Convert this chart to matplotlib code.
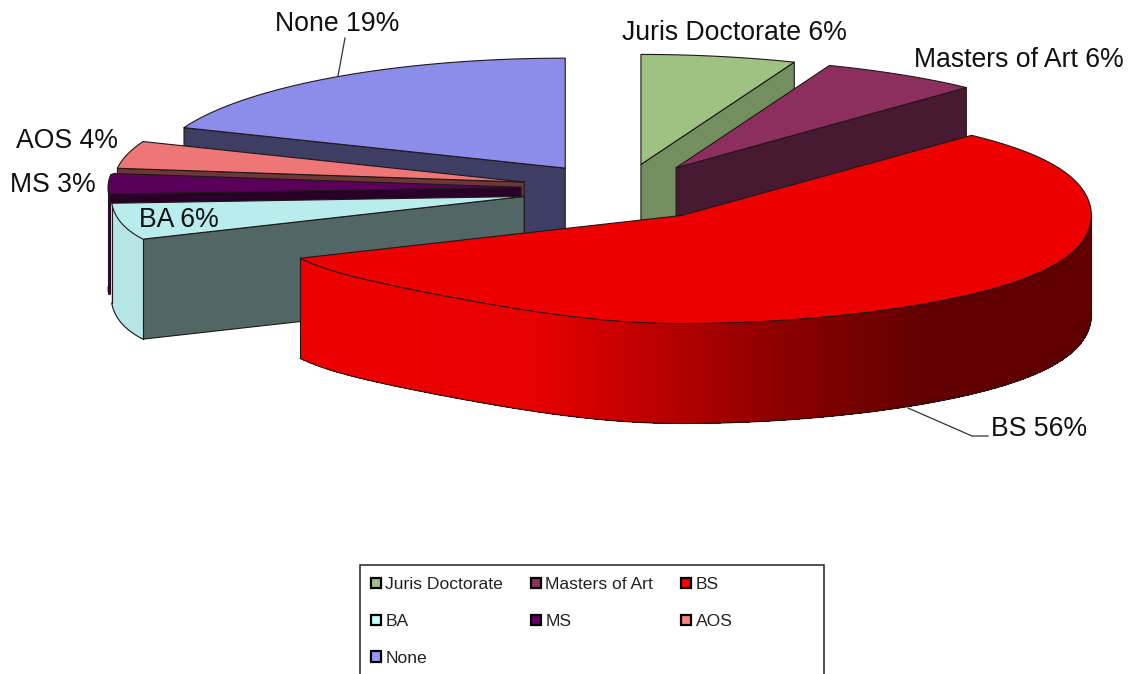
import numpy as np
import matplotlib
matplotlib.use("Agg")
import matplotlib.pyplot as plt
from matplotlib.patches import Polygon, Patch, Rectangle
from matplotlib.colors import LinearSegmentedColormap

plt.rcParams['font.family'] = ['Liberation Sans', 'DejaVu Sans']

categories = ["Juris Doctorate", "Masters of Art", "BS", "BA", "MS", "AOS", "None"]
values = [6, 6, 56, 6, 3, 4, 19]
top_colors = ["#9EC282", "#8C2F5F", "#EE0000", "#B9ECEC", "#5A005A", "#EE7676", "#8C8CEB"]
side_colors = ["#738E5F", "#481A32", "#EE0000", "#526666", "#280028", "#6E3737", "#3E3E64"]
rim_colors = ["#738E5F", "#481A32", "#EE0000", "#B4E6E6", "#280028", "#6E3737", "#3E3E64"]
legend_colors = ["#9EC282", "#8C2F5F", "#FF0000", "#C4FFFF", "#660066", "#FF8080", "#9999FF"]
label_text = ["Juris Doctorate 6%", "Masters of Art 6%", "BS 56%", "BA 6%", "MS 3%", "AOS 4%", "None 19%"]
label_xy = [(734, 33), (1019, 60), (1039, 429), (179, 220), (53, 185), (67, 141), (337, 24)]

W, H = 1133, 674
CX, CY = 622, 188          # pie centre before the slices are pulled apart
EX, EY_UP, EY_DOWN = 101, 24, 34
RX, RY_BACK, RY_FRONT, DEPTH = 410, 110, 108, 100

fig = plt.figure(figsize=(W / 100, H / 100), dpi=100)
ax = fig.add_axes([0, 0, 1, 1])
ax.set_xlim(0, W)
ax.set_ylim(H, 0)
ax.axis("off")

fractions = np.array(values) / np.sum(values)
edges = np.concatenate([[0], np.cumsum(fractions) * 360])
red_shade = LinearSegmentedColormap.from_list(
    "red_shade", [(0, "#EE0000"), (0.3, "#E80000"), (0.62, "#8A0000"), (0.8, "#600000"), (1, "#600000")])
EDGE = dict(edgecolor="#201818", linewidth=0.8, joinstyle="round")


def apex_of(mid):
    s, c = np.sin(np.radians(mid)), np.cos(np.radians(mid))
    return CX + EX * s, CY - (EY_UP if c > 0 else EY_DOWN) * c


def rim(ax0, ay0, angles):
    # slight perspective: the ellipse is not quite regular in the reference's projection
    angles = np.asarray(angles, dtype=float)
    t = np.radians(angles)
    warp = np.sin(2 * t) ** 2
    rx = RX + np.where(angles <= 270, 14 * warp, 0) + np.where((angles > 180) & (angles < 277), 3, 0)
    ry = np.where(np.cos(t) > 0, RY_BACK, RY_FRONT - np.where(angles > 180, 13 * warp, 0))
    return np.column_stack([ax0 + rx * np.sin(t), ay0 - ry * np.cos(t)])


slices = []
for i in range(len(values)):
    a, b = edges[i], edges[i + 1]
    slices.append((apex_of((a + b) / 2), a, b, i))
slices.sort(key=lambda item: item[0][1])

for rank, ((ax0, ay0), a, b, i) in enumerate(slices):
    z = 2 + 3 * rank
    # straight cut faces that turn to the viewer
    for ang, show in ((a, 180 < a < 360), (b, 0 < b < 180)):
        if show:
            p = rim(ax0, ay0, [ang])[0]
            ax.add_patch(Polygon([(ax0, ay0), p, p + (0, DEPTH), (ax0, ay0 + DEPTH)],
                                 facecolor=side_colors[i], zorder=z, **EDGE))
    # outer wall on the near half
    lo, hi = max(a, 90), min(b, 270)
    if hi > lo:
        angs = np.linspace(lo, hi, max(int(hi - lo) + 2, 2))
        pts = rim(ax0, ay0, angs)
        for k in range(len(pts) - 1):
            if categories[i] == "BS":
                col = red_shade(float(np.clip((pts[k, 0] - 300) / 790, 0, 1)))
            else:
                col = rim_colors[i]
            quad = [pts[k], pts[k + 1], pts[k + 1] + (0, DEPTH), pts[k] + (0, DEPTH)]
            ax.add_patch(Polygon(quad, facecolor=col, edgecolor="none", linewidth=0,
                                 antialiased=False, zorder=z + 0.1))
        low = pts + (0, DEPTH)
        ax.plot(low[:, 0], low[:, 1], color="#201818", lw=0.8, zorder=z + 0.2)
        ax.plot([pts[-1, 0]] * 2, [pts[-1, 1], low[-1, 1]], color="#201818", lw=0.8, zorder=z + 0.2)
        ax.plot([pts[0, 0]] * 2, [pts[0, 1], low[0, 1]], color="#201818", lw=0.8, zorder=z + 0.2)
    # top face
    arc = rim(ax0, ay0, np.linspace(a, b, max(int(b - a) * 2, 8)))
    ax.add_patch(Polygon(np.vstack([[(ax0, ay0)], arc]), facecolor=top_colors[i], zorder=z + 1, **EDGE))

# leader lines
ax.plot([345, 338], [38, 76], color="#333333", lw=0.9, zorder=40)
ax.plot([908, 972, 988], [408, 436, 436], color="#333333", lw=0.9, zorder=40)

for txt, (x, y) in zip(label_text, label_xy):
    ax.text(x, y, txt, ha="center", va="center", fontsize=19.2, color="#111111", zorder=50)

# legend frame runs off the bottom of the picture, as in the reference
ax.add_patch(Rectangle((360, 565), 464, 130, facecolor="white", edgecolor="#222222", linewidth=1.1, zorder=55))

# legend: filled column by column so it reads row by row as in the picture
order = [0, 3, 6, 1, 4, 2, 5]
handles = [Patch(facecolor=legend_colors[i], edgecolor="black", linewidth=1.6, label=categories[i]) for i in order]
leg = ax.legend(handles=handles, ncols=3, loc="upper left", bbox_to_anchor=(360, 566),
                bbox_transform=ax.transData, borderaxespad=0, fontsize=12.6, frameon=False,
                handlelength=0.55, handleheight=0.55, handletextpad=0.25,
                labelspacing=1.235, columnspacing=1.61, borderpad=0.65, labelcolor="#222222")
leg.set_zorder(60)

fig.savefig("out.png", dpi=100)
